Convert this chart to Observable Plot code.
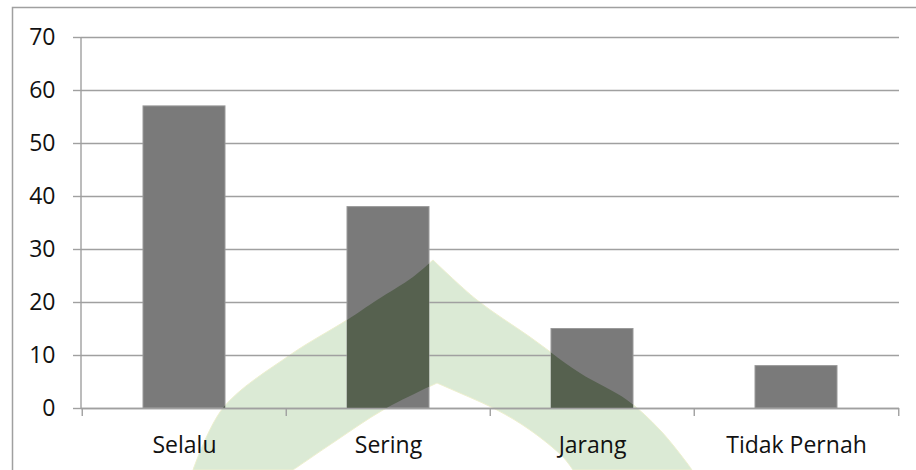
<!DOCTYPE html>
<html>
<head>
<meta charset="utf-8">
<script src="https://cdn.jsdelivr.net/npm/d3@7"></script>
<script src="https://cdn.jsdelivr.net/npm/@observablehq/plot@0.6"></script>
<style>
  html, body { margin: 0; padding: 0; background: #fff; }
  #chart svg { display: block; }
</style>
</head>
<body>
<div id="chart"></div>
<script>
// Responses per frequency category
const categories = ["Selalu", "Sering", "Jarang", "Tidak Pernah"];
const values = [57, 38, 15, 8];
const yTicks = [0, 10, 20, 30, 40, 50, 60, 70];

// Faint dome-shaped logo printed behind the chart (page pixels)
const logoOuterLeft = [[193, 470], [223, 408], [290, 355], [347, 320], [377, 300], [413, 277], [433, 260]];
const logoOuterRight = [[433, 260], [477, 300], [530, 337], [580, 373], [627, 400], [660, 430], [687, 463], [692, 470]];
const logoInnerRight = [[573, 470], [563, 457], [530, 430], [497, 410], [453, 390], [437, 383]];
const logoInnerLeft = [[437, 383], [383, 410], [337, 440], [293, 470]];

const W = 916, H = 470;
const mL = 81, mR = 17, mT = 37, mB = 62;
const step = (W - mL - mR) / categories.length;
const grid = "#a0a0a0";
const ink = "#111111";
const font = "'Open Sans', 'Noto Sans', sans-serif";

const data = categories.map((c, i) => ({category: c, value: values[i]}));

const chart = Plot.plot({
  width: W,
  height: H,
  marginLeft: mL,
  marginRight: mR,
  marginTop: mT,
  marginBottom: mB,
  style: {fontFamily: font, fontSize: "23px", fontWeight: 500, color: ink, background: "transparent", overflow: "visible"},
  x: {domain: categories, paddingInner: 0.6, paddingOuter: 0.3, label: null},
  y: {domain: [0, 70], ticks: yTicks, label: null},
  marks: [
    Plot.gridY(yTicks, {stroke: grid, strokeOpacity: 1, strokeWidth: 1.4}),
    Plot.barY(data, {x: "category", y: "value", fill: "#7a7a7a", stroke: "#9a9a9a", strokeWidth: 1}),
    // axis baseline
    Plot.ruleY([0], {stroke: grid, strokeWidth: 1.4}),
    // category boundary ticks below the baseline
    Plot.ruleX(categories, {x: d => d, dx: -step / 2, y1: 0, y2: -1.5, stroke: grid, strokeWidth: 1.4}),
    Plot.ruleX(categories.slice(-1), {x: d => d, dx: step / 2, y1: 0, y2: -1.5, stroke: grid, strokeWidth: 1.4}),
    Plot.axisY({ticks: yTicks, tickSize: 8, tickPadding: 18, stroke: grid, strokeWidth: 1.4, strokeOpacity: 1, fill: ink, fontSize: 23}),
    Plot.axisX({tickSize: 0, tickPadding: 28, fill: ink, fontSize: 23})
  ]
});

document.getElementById("chart").appendChild(chart);

// vertical y axis line
const svg = d3.select(chart);
svg.append("line")
  .attr("x1", mL).attr("x2", mL).attr("y1", mT).attr("y2", H - mB)
  .attr("stroke", grid).attr("stroke-width", 1.4);

// chart area border (left and top edges)
svg.append("path")
  .attr("d", `M12.5,${H}V7.5H${W}`)
  .attr("fill", "none").attr("stroke", "#a0a0a0").attr("stroke-width", 1.5);

// logo outline: four smooth segments meeting at pointed tips
const seg = d3.line().curve(d3.curveCatmullRom.alpha(0.5));
const logoPath = [logoOuterLeft, logoOuterRight, logoInnerRight, logoInnerLeft]
  .map((pts, i) => i === 0 ? seg(pts) : "L" + seg(pts).slice(1))
  .join("") + "Z";

// light logo beneath everything
svg.insert("path", ":first-child")
  .attr("d", logoPath)
  .attr("fill", "#dbead5")
  .attr("stroke", "#eef0cf")
  .attr("stroke-width", 1);

// darker logo where it crosses the bars
const barGroup = chart.querySelector('g[aria-label="bar"]');
const clip = svg.append("defs").append("clipPath").attr("id", "bars-clip");
barGroup.querySelectorAll("rect").forEach(r => {
  clip.node().appendChild(r.cloneNode(true));
});
const overlay = document.createElementNS("http://www.w3.org/2000/svg", "path");
overlay.setAttribute("d", logoPath);
overlay.setAttribute("fill", "#56614f");
overlay.setAttribute("clip-path", "url(#bars-clip)");
barGroup.parentNode.insertBefore(overlay, barGroup.nextSibling);
</script>
</body>
</html>
